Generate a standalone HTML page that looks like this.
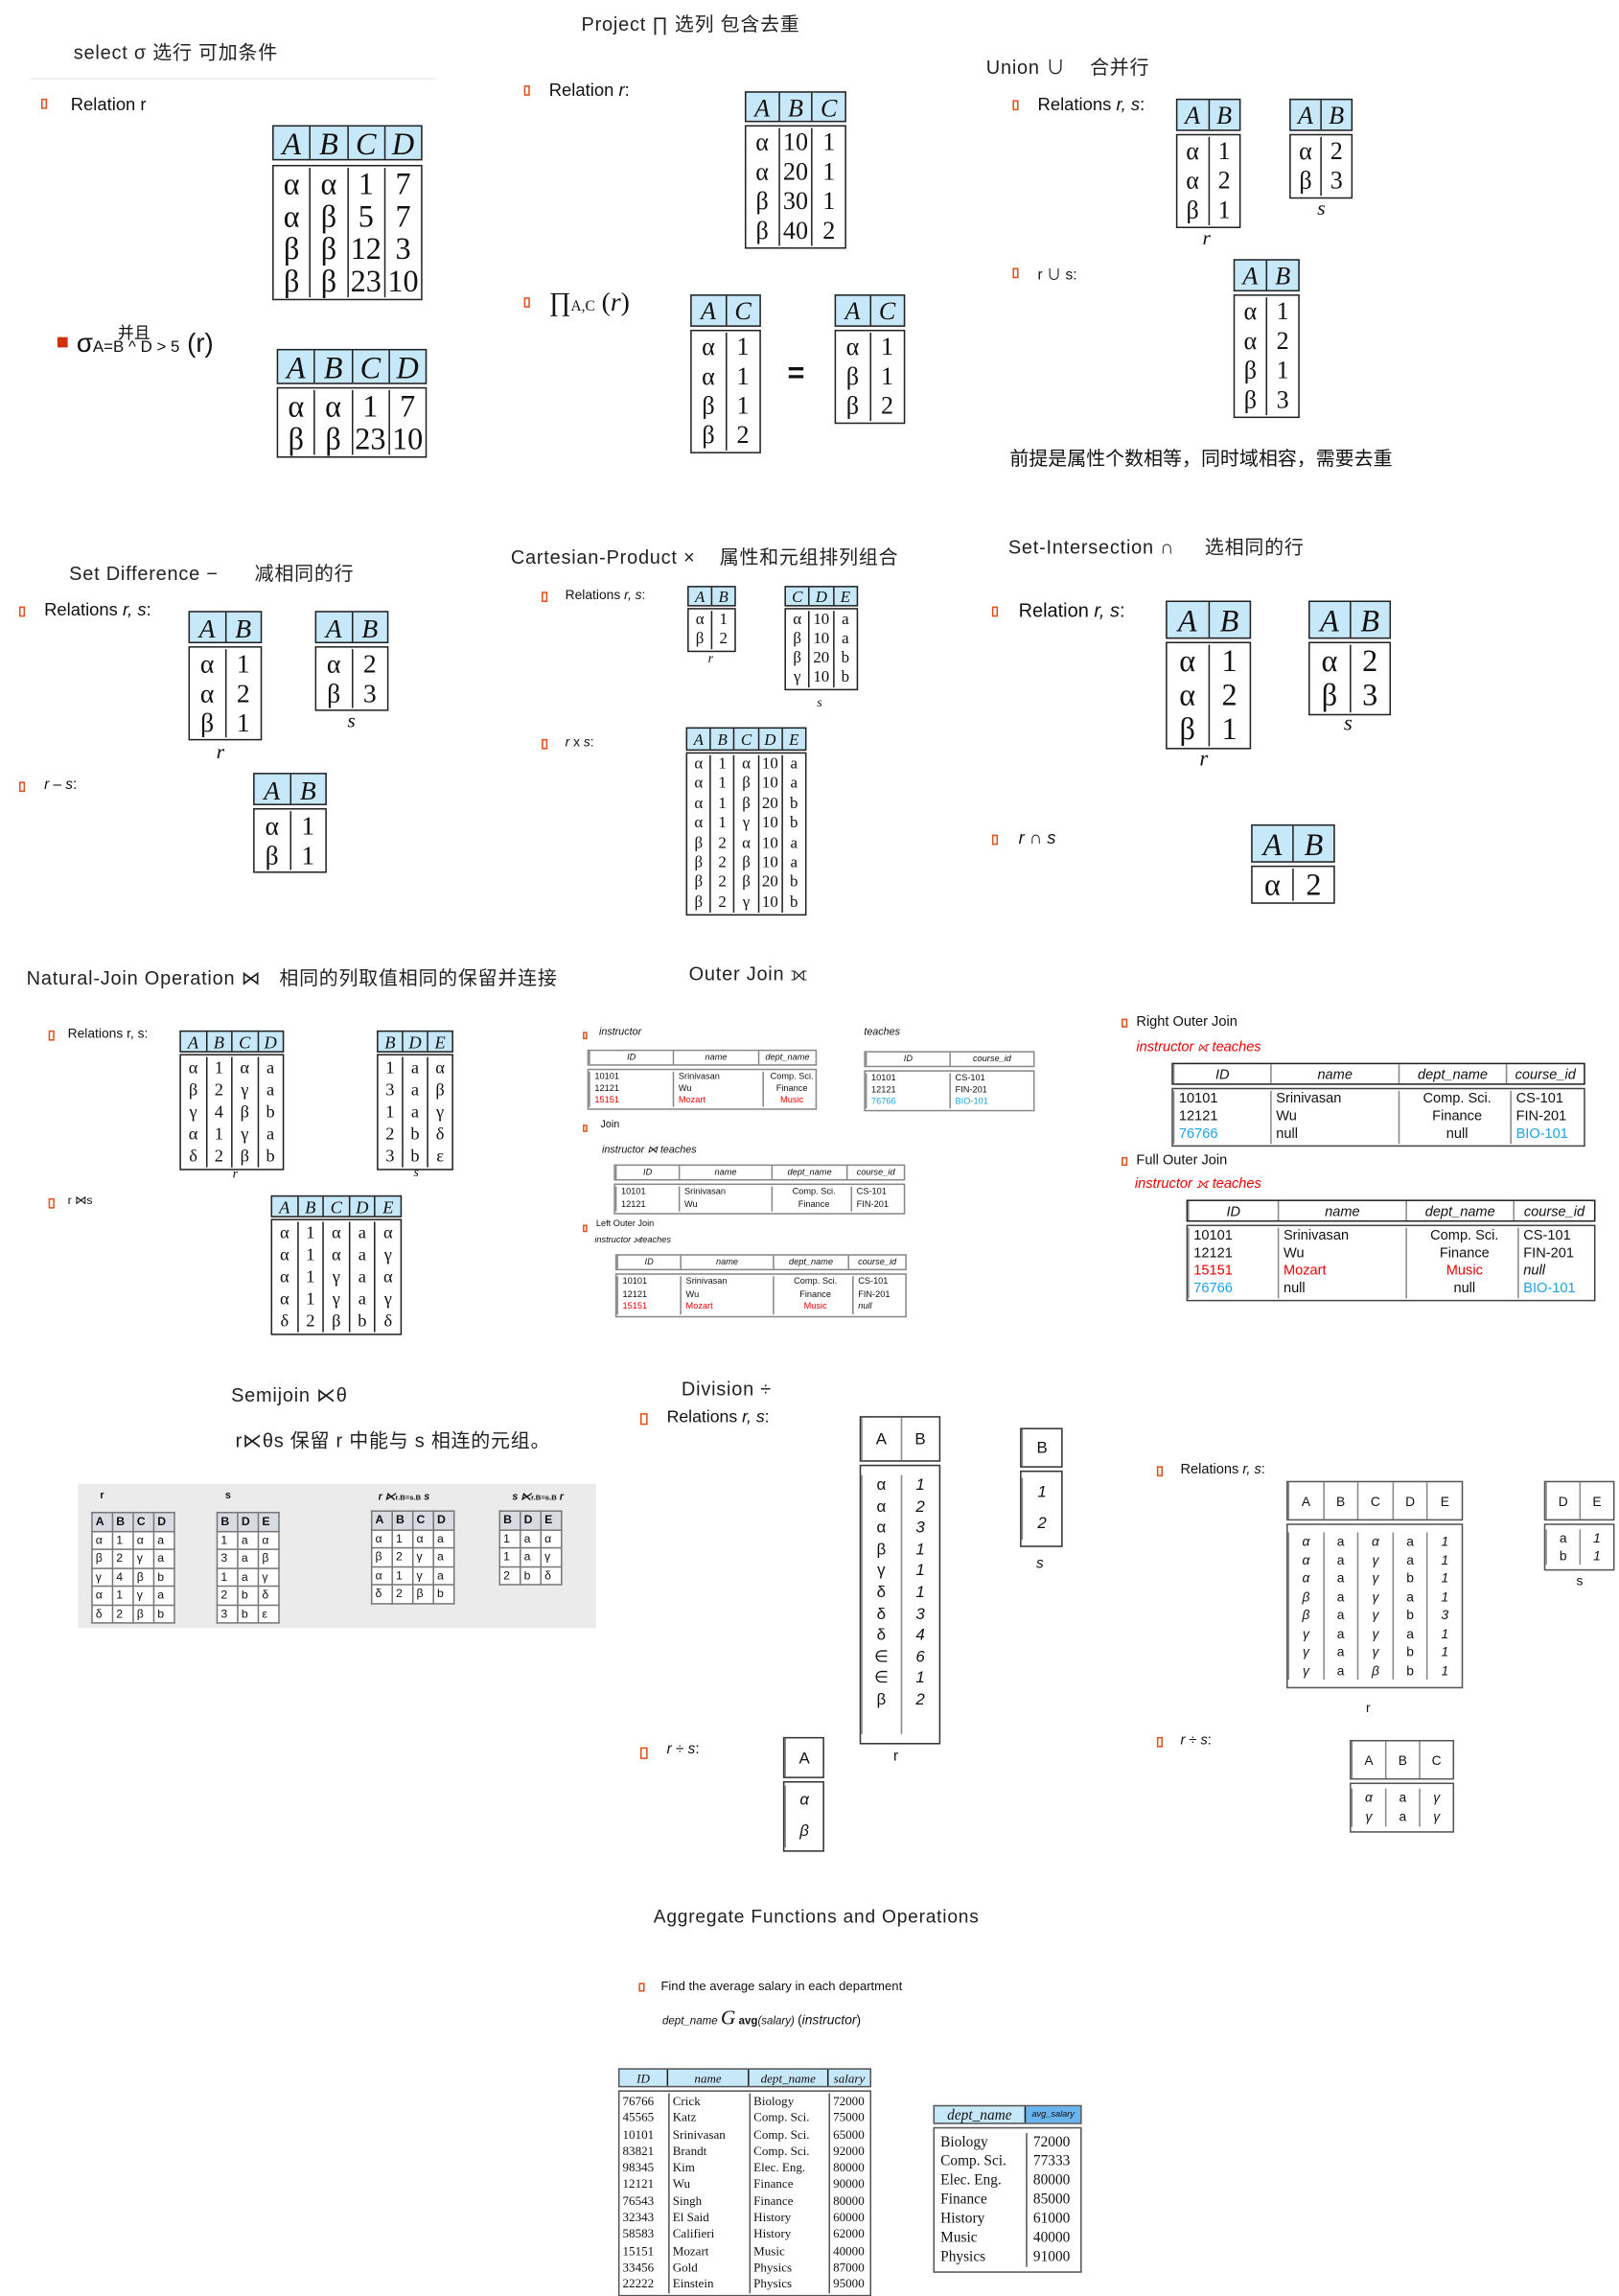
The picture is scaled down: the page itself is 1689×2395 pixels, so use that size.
<!DOCTYPE html>
<html><head><meta charset="utf-8">
<style>
html,body{margin:0;padding:0;background:#fff;}
body{width:1689px;height:2380px;overflow:hidden;position:relative;}
#c{position:absolute;left:0;top:0;width:1100px;height:1550px;transform:scale(1.5355);transform-origin:0 0;font-family:"Liberation Sans","Noto Sans CJK SC",sans-serif;color:#111;}
.a{position:absolute;white-space:nowrap;}
.hw{font-family:"Liberation Sans","Noto Sans CJK SC",sans-serif;font-size:13px;color:#222;letter-spacing:0.5px;}
.bl{position:absolute;width:4px;height:7px;border:1.2px solid #e0501a;box-sizing:border-box;}
.t{position:absolute;font-family:"Liberation Serif","DejaVu Serif",serif;text-align:center;}
.h{display:flex;height:var(--hh);line-height:var(--hh);background:#c7e8f8;border:1.4px solid #222;font-style:italic;box-sizing:border-box;}
.b{display:flex;margin-top:var(--gap,2px);border:1.4px solid #222;line-height:var(--lh);padding:var(--pt,1px) 0;box-sizing:border-box;}
.h>*,.b>*{flex:1;border-left:1px solid #222;}
.h>*:first-child,.b>*:first-child{border-left:none;}
.g .h{background:#fff;border:1px solid #888;}
.g .b{border:1px solid #888;text-align:left;}
.g .h>*,.g .b>*{border-left:1px solid #888;}
.g .b>*{padding-left:3px;}
.g{font-family:"Liberation Sans",sans-serif;}
.r{color:#e00;}.bu{color:#1aa3e8;}
table.s{position:absolute;border-collapse:collapse;font-family:"Liberation Sans",sans-serif;font-size:8px;background:#fff;}
table.s td{border:1px solid #777;padding:0 2px;width:9px;height:11.5px;line-height:11.5px;}
table.s tr:first-child td{background:#d9dbe3;font-weight:bold;}
.lbl{position:absolute;font-family:"Liberation Serif",serif;font-style:italic;}
</style></head><body><div id="c">

<!-- SELECT -->
<div class="a hw" style="left:50px;top:25px;">select σ 选行 可加条件</div>
<div class="a" style="left:20px;top:53px;width:276px;height:1px;background:#eee;"></div>
<div class="bl" style="left:28px;top:67px;"></div>
<div class="a" style="left:48px;top:64px;font-size:12px;">Relation r</div>
<div class="t" style="left:185px;top:85px;width:102px;font-size:21px;--hh:24px;--gap:3px;--lh:22px;">
<div class="h"><span>A</span><span>B</span><span>C</span><span>D</span></div>
<div class="b"><div>α<br>α<br>β<br>β</div><div>α<br>β<br>β<br>β</div><div>1<br>5<br>12<br>23</div><div>7<br>7<br>3<br>10</div></div></div>
<div class="a" style="left:39px;top:229px;width:7px;height:7px;background:#d03010;"></div>
<div class="a" style="left:52px;top:223px;font-size:18px;">σ<span style="font-size:11px;">A=B ^ D &gt; 5</span> (r)</div>
<div class="a" style="left:80px;top:218px;font-size:11px;">并且</div>
<div class="t" style="left:188px;top:237px;width:102px;font-size:21px;--hh:24px;--gap:2px;--lh:22px;">
<div class="h"><span>A</span><span>B</span><span>C</span><span>D</span></div>
<div class="b"><div>α<br>β</div><div>α<br>β</div><div>1<br>23</div><div>7<br>10</div></div></div>

<!-- PROJECT -->
<div class="a hw" style="left:395px;top:6px;">Project ∏ 选列 包含去重</div>
<div class="bl" style="left:356px;top:58px;"></div>
<div class="a" style="left:373px;top:54px;font-size:12px;">Relation <i>r</i>:</div>
<div class="t" style="left:506px;top:62px;width:69px;font-size:17px;--hh:21px;--gap:2px;--lh:20px;">
<div class="h"><span>A</span><span>B</span><span>C</span></div>
<div class="b"><div>α<br>α<br>β<br>β</div><div>10<br>20<br>30<br>40</div><div>1<br>1<br>1<br>2</div></div></div>
<div class="bl" style="left:356px;top:202px;"></div>
<div class="a" style="left:373px;top:195px;font-size:18px;font-family:'Liberation Serif',serif;">∏<span style="font-size:10px;">A,C</span> (<i>r</i>)</div>
<div class="t" style="left:469px;top:200px;width:48px;font-size:17px;--hh:22px;--gap:2px;--lh:20px;">
<div class="h"><span>A</span><span>C</span></div>
<div class="b"><div>α<br>α<br>β<br>β</div><div>1<br>1<br>1<br>2</div></div></div>
<div class="a" style="left:535px;top:243px;font-size:20px;font-weight:bold;">=</div>
<div class="t" style="left:567px;top:200px;width:48px;font-size:17px;--hh:22px;--gap:2px;--lh:20px;">
<div class="h"><span>A</span><span>C</span></div>
<div class="b"><div>α<br>β<br>β</div><div>1<br>1<br>2</div></div></div>

<!-- UNION -->
<div class="a hw" style="left:670px;top:35px;">Union ∪ &nbsp;&nbsp; 合并行</div>
<div class="bl" style="left:688px;top:68px;"></div>
<div class="a" style="left:705px;top:64px;font-size:12px;">Relations <i>r, s</i>:</div>
<div class="t" style="left:799px;top:67px;width:44px;font-size:17px;--hh:22px;--gap:2px;--lh:20px;">
<div class="h"><span>A</span><span>B</span></div>
<div class="b"><div>α<br>α<br>β</div><div>1<br>2<br>1</div></div></div>
<div class="lbl" style="left:817px;top:155px;font-size:14px;">r</div>
<div class="t" style="left:876px;top:67px;width:43px;font-size:17px;--hh:22px;--gap:2px;--lh:20px;">
<div class="h"><span>A</span><span>B</span></div>
<div class="b"><div>α<br>β</div><div>2<br>3</div></div></div>
<div class="lbl" style="left:895px;top:135px;font-size:14px;">s</div>
<div class="bl" style="left:688px;top:182px;"></div>
<div class="a" style="left:705px;top:178px;font-size:10px;">r ∪ s:</div>
<div class="t" style="left:838px;top:176px;width:45px;font-size:17px;--hh:22px;--gap:2px;--lh:20px;">
<div class="h"><span>A</span><span>B</span></div>
<div class="b"><div>α<br>α<br>β<br>β</div><div>1<br>2<br>1<br>3</div></div></div>
<div class="a" style="left:686px;top:301px;font-size:13px;font-family:'Noto Sans CJK SC',sans-serif;">前提是属性个数相等，同时域相容，需要去重</div>

<!-- SET DIFFERENCE -->
<div class="a hw" style="left:47px;top:379px;">Set Difference − &nbsp;&nbsp;&nbsp;&nbsp; 减相同的行</div>
<div class="bl" style="left:13px;top:412px;"></div>
<div class="a" style="left:30px;top:407px;font-size:12px;">Relations <i>r, s</i>:</div>
<div class="t" style="left:128px;top:415px;width:50px;font-size:18px;--hh:22px;--gap:2px;--lh:20px;">
<div class="h"><span>A</span><span>B</span></div>
<div class="b"><div>α<br>α<br>β</div><div>1<br>2<br>1</div></div></div>
<div class="lbl" style="left:147px;top:504px;font-size:14px;">r</div>
<div class="t" style="left:214px;top:415px;width:50px;font-size:18px;--hh:22px;--gap:2px;--lh:20px;">
<div class="h"><span>A</span><span>B</span></div>
<div class="b"><div>α<br>β</div><div>2<br>3</div></div></div>
<div class="lbl" style="left:236px;top:483px;font-size:14px;">s</div>
<div class="bl" style="left:13px;top:531px;"></div>
<div class="a" style="left:30px;top:528px;font-size:10px;"><i>r</i> – <i>s</i>:</div>
<div class="t" style="left:172px;top:525px;width:50px;font-size:18px;--hh:22px;--gap:2px;--lh:20px;">
<div class="h"><span>A</span><span>B</span></div>
<div class="b"><div>α<br>β</div><div>1<br>1</div></div></div>

<!-- CARTESIAN -->
<div class="a hw" style="left:347px;top:368px;">Cartesian-Product × &nbsp;&nbsp; 属性和元组排列组合</div>
<div class="bl" style="left:368px;top:402px;"></div>
<div class="a" style="left:384px;top:399px;font-size:9px;">Relations <i>r, s</i>:</div>
<div class="t" style="left:467px;top:398px;width:33px;font-size:11px;--hh:14px;--gap:1px;--lh:13px;">
<div class="h"><span>A</span><span>B</span></div>
<div class="b"><div>α<br>β</div><div>1<br>2</div></div></div>
<div class="lbl" style="left:481px;top:442px;font-size:9px;">r</div>
<div class="t" style="left:533px;top:398px;width:50px;font-size:11px;--hh:14px;--gap:1px;--lh:13px;">
<div class="h"><span>C</span><span>D</span><span>E</span></div>
<div class="b"><div>α<br>β<br>β<br>γ</div><div>10<br>10<br>20<br>10</div><div>a<br>a<br>b<br>b</div></div></div>
<div class="lbl" style="left:555px;top:472px;font-size:9px;">s</div>
<div class="bl" style="left:368px;top:502px;"></div>
<div class="a" style="left:384px;top:499px;font-size:9px;"><i>r</i> x <i>s</i>:</div>
<div class="t" style="left:466px;top:494px;width:82px;font-size:11px;--hh:16px;--gap:1px;--lh:13.4px;">
<div class="h"><span>A</span><span>B</span><span>C</span><span>D</span><span>E</span></div>
<div class="b"><div>α<br>α<br>α<br>α<br>β<br>β<br>β<br>β</div><div>1<br>1<br>1<br>1<br>2<br>2<br>2<br>2</div><div>α<br>β<br>β<br>γ<br>α<br>β<br>β<br>γ</div><div>10<br>10<br>20<br>10<br>10<br>10<br>20<br>10</div><div>a<br>a<br>b<br>b<br>a<br>a<br>b<br>b</div></div></div>

<!-- INTERSECTION -->
<div class="a hw" style="left:685px;top:361px;">Set-Intersection ∩ &nbsp;&nbsp;&nbsp; 选相同的行</div>
<div class="bl" style="left:674px;top:412px;"></div>
<div class="a" style="left:692px;top:407px;font-size:13px;">Relation <i>r, s</i>:</div>
<div class="t" style="left:792px;top:408px;width:58px;font-size:21px;--hh:26px;--gap:2px;--lh:23px;">
<div class="h"><span>A</span><span>B</span></div>
<div class="b"><div>α<br>α<br>β</div><div>1<br>2<br>1</div></div></div>
<div class="lbl" style="left:815px;top:508px;font-size:15px;">r</div>
<div class="t" style="left:889px;top:408px;width:56px;font-size:21px;--hh:26px;--gap:2px;--lh:23px;">
<div class="h"><span>A</span><span>B</span></div>
<div class="b"><div>α<br>β</div><div>2<br>3</div></div></div>
<div class="lbl" style="left:913px;top:484px;font-size:15px;">s</div>
<div class="bl" style="left:674px;top:567px;"></div>
<div class="a" style="left:692px;top:562px;font-size:12px;"><i>r</i> ∩ <i>s</i></div>
<div class="t" style="left:850px;top:560px;width:57px;font-size:21px;--hh:26px;--gap:2px;--lh:22px;">
<div class="h"><span>A</span><span>B</span></div>
<div class="b"><div>α</div><div>2</div></div></div>

<!-- NATURAL JOIN -->
<div class="a hw" style="left:18px;top:654px;">Natural-Join Operation ⋈ &nbsp; 相同的列取值相同的保留并连接</div>
<div class="bl" style="left:33px;top:700px;"></div>
<div class="a" style="left:46px;top:697px;font-size:9px;">Relations r, s:</div>
<div class="t" style="left:122px;top:700px;width:71px;font-size:12px;--hh:15px;--gap:1px;--lh:15px;">
<div class="h"><span>A</span><span>B</span><span>C</span><span>D</span></div>
<div class="b"><div>α<br>β<br>γ<br>α<br>δ</div><div>1<br>2<br>4<br>1<br>2</div><div>α<br>γ<br>β<br>γ<br>β</div><div>a<br>a<br>b<br>a<br>b</div></div></div>
<div class="lbl" style="left:158px;top:792px;font-size:9px;">r</div>
<div class="t" style="left:256px;top:700px;width:52px;font-size:12px;--hh:15px;--gap:1px;--lh:15px;">
<div class="h"><span>B</span><span>D</span><span>E</span></div>
<div class="b"><div>1<br>3<br>1<br>2<br>3</div><div>a<br>a<br>a<br>b<br>b</div><div>α<br>β<br>γ<br>δ<br>ε</div></div></div>
<div class="lbl" style="left:281px;top:791px;font-size:9px;">s</div>
<div class="bl" style="left:33px;top:814px;"></div>
<div class="a" style="left:46px;top:811px;font-size:8px;">r ⋈s</div>
<div class="t" style="left:184px;top:812px;width:89px;font-size:12px;--hh:15px;--gap:1px;--lh:15px;">
<div class="h"><span>A</span><span>B</span><span>C</span><span>D</span><span>E</span></div>
<div class="b"><div>α<br>α<br>α<br>α<br>δ</div><div>1<br>1<br>1<br>1<br>2</div><div>α<br>α<br>γ<br>γ<br>β</div><div>a<br>a<br>a<br>a<br>b</div><div>α<br>γ<br>α<br>γ<br>δ</div></div></div>

<!-- OUTER JOIN -->
<div class="a hw" style="left:468px;top:654px;">Outer Join ⟗</div>
<div class="bl" style="left:396px;top:701px;width:3px;height:5px;"></div>
<div class="a" style="left:407px;top:698px;font-size:7px;font-style:italic;">instructor</div>
<div class="t g" style="left:399px;top:713px;width:156px;font-size:6px;--hh:11px;--gap:2px;--lh:8px;">
<div class="h"><span style="flex:0 0 56px">ID</span><span style="flex:0 0 57px">name</span><span>dept_name</span></div>
<div class="b"><div style="flex:0 0 53px">10101<br>12121<br><span class="r">15151</span></div><div style="flex:0 0 57px">Srinivasan<br>Wu<br><span class="r">Mozart</span></div><div style="text-align:center">Comp. Sci.<br>Finance<br><span class="r">Music</span></div></div></div>
<div class="a" style="left:587px;top:698px;font-size:7px;font-style:italic;">teaches</div>
<div class="t g" style="left:587px;top:714px;width:116px;font-size:6px;--hh:11px;--gap:2px;--lh:8px;">
<div class="h"><span>ID</span><span>course_id</span></div>
<div class="b"><div>10101<br>12121<br><span class="bu">76766</span></div><div>CS-101<br>FIN-201<br><span class="bu">BIO-101</span></div></div></div>
<div class="bl" style="left:396px;top:764px;width:3px;height:5px;"></div>
<div class="a" style="left:408px;top:761px;font-size:7px;">Join</div>
<div class="a" style="left:409px;top:777px;font-size:7px;font-style:italic;">instructor ⋈ teaches</div>
<div class="t g" style="left:417px;top:791px;width:198px;font-size:6px;--hh:11px;--gap:2px;--lh:8.5px;">
<div class="h"><span style="flex:0 0 42px">ID</span><span style="flex:0 0 62px">name</span><span style="flex:0 0 50px">dept_name</span><span>course_id</span></div>
<div class="b"><div style="flex:0 0 39px">10101<br>12121</div><div style="flex:0 0 59px">Srinivasan<br>Wu</div><div style="flex:0 0 50px;text-align:center">Comp. Sci.<br>Finance</div><div>CS-101<br>FIN-201</div></div></div>
<div class="bl" style="left:396px;top:832px;width:3px;height:5px;"></div>
<div class="a" style="left:405px;top:829px;font-size:6px;">Left Outer Join</div>
<div class="a" style="left:404px;top:840px;font-size:6px;font-style:italic;">instructor ⟕teaches</div>
<div class="t g" style="left:418px;top:852px;width:198px;font-size:6px;--hh:11px;--gap:2px;--lh:8.5px;">
<div class="h"><span style="flex:0 0 42px">ID</span><span style="flex:0 0 62px">name</span><span style="flex:0 0 50px">dept_name</span><span>course_id</span></div>
<div class="b"><div style="flex:0 0 39px">10101<br>12121<br><span class="r">15151</span></div><div style="flex:0 0 59px">Srinivasan<br>Wu<br><span class="r">Mozart</span></div><div style="flex:0 0 50px;text-align:center">Comp. Sci.<br>Finance<br><span class="r">Music</span></div><div>CS-101<br>FIN-201<br><i>null</i></div></div></div>

<div class="bl" style="left:762px;top:692px;width:4px;height:6px;"></div>
<div class="a" style="left:772px;top:689px;font-size:9.5px;">Right Outer Join</div>
<div class="a r" style="left:772px;top:706px;font-size:9.5px;font-style:italic;">instructor ⟖ teaches</div>
<div class="t g" style="left:796px;top:722px;width:281px;font-size:9.5px;--hh:15px;--gap:2px;--lh:12px;">
<div class="h" style="border-color:#222"><span style="flex:0 0 65px">ID</span><span style="flex:0 0 86px">name</span><span style="flex:0 0 72px">dept_name</span><span>course_id</span></div>
<div class="b" style="border-color:#444"><div style="flex:0 0 62px">10101<br>12121<br><span class="bu">76766</span></div><div style="flex:0 0 83px">Srinivasan<br>Wu<br>null</div><div style="flex:0 0 72px;text-align:center">Comp. Sci.<br>Finance<br>null</div><div>CS-101<br>FIN-201<br><span class="bu">BIO-101</span></div></div></div>
<div class="bl" style="left:762px;top:786px;width:4px;height:6px;"></div>
<div class="a" style="left:772px;top:783px;font-size:9.5px;">Full Outer Join</div>
<div class="a r" style="left:771px;top:799px;font-size:9.5px;font-style:italic;">instructor ⟗ teaches</div>
<div class="t g" style="left:806px;top:815px;width:278px;font-size:9.5px;--hh:15px;--gap:2px;--lh:12px;">
<div class="h" style="border-color:#222"><span style="flex:0 0 60px">ID</span><span style="flex:0 0 86px">name</span><span style="flex:0 0 72px">dept_name</span><span>course_id</span></div>
<div class="b" style="border-color:#444"><div style="flex:0 0 57px">10101<br>12121<br><span class="r">15151</span><br><span class="bu">76766</span></div><div style="flex:0 0 83px">Srinivasan<br>Wu<br><span class="r">Mozart</span><br>null</div><div style="flex:0 0 72px;text-align:center">Comp. Sci.<br>Finance<br><span class="r">Music</span><br>null</div><div>CS-101<br>FIN-201<br><i>null</i><br><span class="bu">BIO-101</span></div></div></div>

<!-- SEMIJOIN -->
<div class="a hw" style="left:157px;top:940px;">Semijoin ⋉θ</div>
<div class="a hw" style="left:160px;top:968px;">r⋉θs 保留 r 中能与 s 相连的元组。</div>
<div class="a" style="left:53px;top:1008px;width:352px;height:98px;background:#ebebeb;"></div>
<div class="a" style="left:68px;top:1013px;font-size:7px;font-weight:bold;">r</div>
<table class="s" style="left:62px;top:1027px;"><tr><td>A</td><td>B</td><td>C</td><td>D</td></tr><tr><td>α</td><td>1</td><td>α</td><td>a</td></tr><tr><td>β</td><td>2</td><td>γ</td><td>a</td></tr><tr><td>γ</td><td>4</td><td>β</td><td>b</td></tr><tr><td>α</td><td>1</td><td>γ</td><td>a</td></tr><tr><td>δ</td><td>2</td><td>β</td><td>b</td></tr></table>
<div class="a" style="left:153px;top:1013px;font-size:7px;font-weight:bold;">s</div>
<table class="s" style="left:147px;top:1027px;"><tr><td>B</td><td>D</td><td>E</td></tr><tr><td>1</td><td>a</td><td>α</td></tr><tr><td>3</td><td>a</td><td>β</td></tr><tr><td>1</td><td>a</td><td>γ</td></tr><tr><td>2</td><td>b</td><td>δ</td></tr><tr><td>3</td><td>b</td><td>ε</td></tr></table>
<div class="a" style="left:257px;top:1013px;font-size:7px;font-weight:bold;font-style:italic;">r ⋉<span style="font-size:5px;font-style:normal;">r.B=s.B</span> s</div>
<table class="s" style="left:252px;top:1026px;"><tr><td>A</td><td>B</td><td>C</td><td>D</td></tr><tr><td>α</td><td>1</td><td>α</td><td>a</td></tr><tr><td>β</td><td>2</td><td>γ</td><td>a</td></tr><tr><td>α</td><td>1</td><td>γ</td><td>a</td></tr><tr><td>δ</td><td>2</td><td>β</td><td>b</td></tr></table>
<div class="a" style="left:348px;top:1013px;font-size:7px;font-weight:bold;font-style:italic;">s ⋉<span style="font-size:5px;font-style:normal;">r.B=s.B</span> r</div>
<table class="s" style="left:339px;top:1026px;"><tr><td>B</td><td>D</td><td>E</td></tr><tr><td>1</td><td>a</td><td>α</td></tr><tr><td>1</td><td>a</td><td>γ</td></tr><tr><td>2</td><td>b</td><td>δ</td></tr></table>

<!-- DIVISION -->
<div class="a hw" style="left:463px;top:936px;">Division ÷</div>
<div class="bl" style="left:435px;top:960px;width:5px;height:8px;"></div>
<div class="a" style="left:453px;top:957px;font-size:11.5px;">Relations <i>r, s</i>:</div>
<div class="t g" style="left:584px;top:962px;width:55px;font-size:11px;--hh:31px;--gap:2px;--lh:14.6px;--pt:6px;">
<div class="h" style="border-color:#333;font-style:normal;font-family:'Liberation Sans',sans-serif;"><span>A</span><span>B</span></div>
<div class="b" style="border-color:#333;height:190px;"><div style="text-align:center;padding:0;">α<br>α<br>α<br>β<br>γ<br>δ<br>δ<br>δ<br>∈<br>∈<br>β</div><div style="text-align:center;padding:0;font-style:italic;">1<br>2<br>3<br>1<br>1<br>1<br>3<br>4<br>6<br>1<br>2</div></div></div>
<div class="lbl" style="left:607px;top:1188px;font-size:10px;font-style:normal;font-family:'Liberation Sans',sans-serif;">r</div>
<div class="t g" style="left:693px;top:970px;width:29px;font-size:11px;--hh:27px;--gap:2px;--lh:21px;--pt:4px;">
<div class="h" style="border-color:#333;font-style:normal;font-family:'Liberation Sans',sans-serif;"><span>B</span></div>
<div class="b" style="border-color:#333;"><div style="text-align:center;padding:0;font-style:italic;">1<br>2</div></div></div>
<div class="a" style="left:704px;top:1057px;font-size:10px;font-style:italic;">s</div>
<div class="bl" style="left:435px;top:1187px;width:5px;height:8px;"></div>
<div class="a" style="left:453px;top:1183px;font-size:10px;"><i>r</i> ÷ <i>s</i>:</div>
<div class="t g" style="left:532px;top:1180px;width:28px;font-size:11px;--hh:28px;--gap:2px;--lh:21px;--pt:2px;">
<div class="h" style="border-color:#333;font-style:normal;font-family:'Liberation Sans',sans-serif;"><span>A</span></div>
<div class="b" style="border-color:#333;"><div style="text-align:center;padding:0;font-style:italic;">α<br>β</div></div></div>

<div class="bl" style="left:786px;top:996px;width:4px;height:7px;"></div>
<div class="a" style="left:802px;top:993px;font-size:9.5px;">Relations <i>r, s</i>:</div>
<div class="t g" style="left:874px;top:1006px;width:120px;font-size:9px;--hh:27px;--gap:2px;--lh:12.5px;--pt:5px;">
<div class="h" style="border-color:#555;font-style:normal;font-family:'Liberation Sans',sans-serif;"><span>A</span><span>B</span><span>C</span><span>D</span><span>E</span></div>
<div class="b" style="border-color:#555;"><div style="text-align:center;padding:0;font-style:italic;">α<br>α<br>α<br>β<br>β<br>γ<br>γ<br>γ</div><div style="text-align:center;padding:0;">a<br>a<br>a<br>a<br>a<br>a<br>a<br>a</div><div style="text-align:center;padding:0;font-style:italic;">α<br>γ<br>γ<br>γ<br>γ<br>γ<br>γ<br>β</div><div style="text-align:center;padding:0;">a<br>a<br>b<br>a<br>b<br>a<br>b<br>b</div><div style="text-align:center;padding:0;font-style:italic;">1<br>1<br>1<br>1<br>3<br>1<br>1<br>1</div></div></div>
<div class="a" style="left:928px;top:1155px;font-size:9px;">r</div>
<div class="t g" style="left:1049px;top:1006px;width:48px;font-size:9px;--hh:27px;--gap:2px;--lh:12px;--pt:3px;">
<div class="h" style="border-color:#555;font-style:normal;font-family:'Liberation Sans',sans-serif;"><span>D</span><span>E</span></div>
<div class="b" style="border-color:#555;"><div style="text-align:center;padding:0;">a<br>b</div><div style="text-align:center;padding:0;font-style:italic;">1<br>1</div></div></div>
<div class="a" style="left:1071px;top:1069px;font-size:9px;">s</div>
<div class="bl" style="left:786px;top:1180px;width:4px;height:7px;"></div>
<div class="a" style="left:802px;top:1177px;font-size:9.5px;"><i>r</i> ÷ <i>s</i>:</div>
<div class="t g" style="left:917px;top:1182px;width:71px;font-size:9px;--hh:27px;--gap:2px;--lh:13px;--pt:3px;">
<div class="h" style="border-color:#555;font-style:normal;font-family:'Liberation Sans',sans-serif;"><span>A</span><span>B</span><span>C</span></div>
<div class="b" style="border-color:#555;"><div style="text-align:center;padding:0;font-style:italic;">α<br>γ</div><div style="text-align:center;padding:0;">a<br>a</div><div style="text-align:center;padding:0;font-style:italic;">γ<br>γ</div></div></div>

<!-- AGGREGATE -->
<div class="a hw" style="left:444px;top:1295px;font-size:12.5px;">Aggregate Functions and Operations</div>
<div class="bl" style="left:434px;top:1347px;width:4px;height:6px;"></div>
<div class="a" style="left:449px;top:1344px;font-size:8.5px;">Find the average salary in each department</div>
<div class="a" style="left:450px;top:1364px;font-size:7.5px;"><i>dept_name</i> <span style="font-family:'Liberation Serif',serif;font-size:14px;font-style:italic;">G</span> <b>avg</b><i>(salary)</i> <span style="font-size:9px;">(<i>instructor</i>)</span></div>
<div class="t" style="left:420px;top:1405px;width:172px;font-size:8.5px;--hh:13px;--gap:2px;--lh:11.3px;">
<div class="h" style="border-width:1px;border-color:#555;"><span style="flex:0 0 32px">ID</span><span style="flex:0 0 54px">name</span><span style="flex:0 0 53px">dept_name</span><span>salary</span></div>
<div class="b" style="border-width:1px;border-color:#555;text-align:left;"><div style="flex:0 0 31px;padding-left:2px;border-color:#555">76766<br>45565<br>10101<br>83821<br>98345<br>12121<br>76543<br>32343<br>58583<br>15151<br>33456<br>22222</div><div style="flex:0 0 52px;padding-left:2px;border-color:#555">Crick<br>Katz<br>Srinivasan<br>Brandt<br>Kim<br>Wu<br>Singh<br>El Said<br>Califieri<br>Mozart<br>Gold<br>Einstein</div><div style="flex:0 0 51px;padding-left:2px;border-color:#555">Biology<br>Comp. Sci.<br>Comp. Sci.<br>Comp. Sci.<br>Elec. Eng.<br>Finance<br>Finance<br>History<br>History<br>Music<br>Physics<br>Physics</div><div style="padding-left:2px;border-color:#555">72000<br>75000<br>65000<br>92000<br>80000<br>90000<br>80000<br>60000<br>62000<br>40000<br>87000<br>95000</div></div></div>
<div class="t" style="left:634px;top:1430px;width:101px;font-size:10px;--hh:13px;--gap:2px;--lh:13px;--pt:3px;">
<div class="h" style="border-width:1px;border-color:#555;"><span style="flex:0 0 61px">dept_name</span><span style="font-size:6px;font-family:'Liberation Sans',sans-serif;background:#6ab4ee;">avg_salary</span></div>
<div class="b" style="border-width:1px;border-color:#555;text-align:left;"><div style="flex:0 0 58px;padding-left:4px;border-color:#555">Biology<br>Comp. Sci.<br>Elec. Eng.<br>Finance<br>History<br>Music<br>Physics</div><div style="padding-left:4px;border-color:#555">72000<br>77333<br>80000<br>85000<br>61000<br>40000<br>91000</div></div></div>

</div></body></html>
